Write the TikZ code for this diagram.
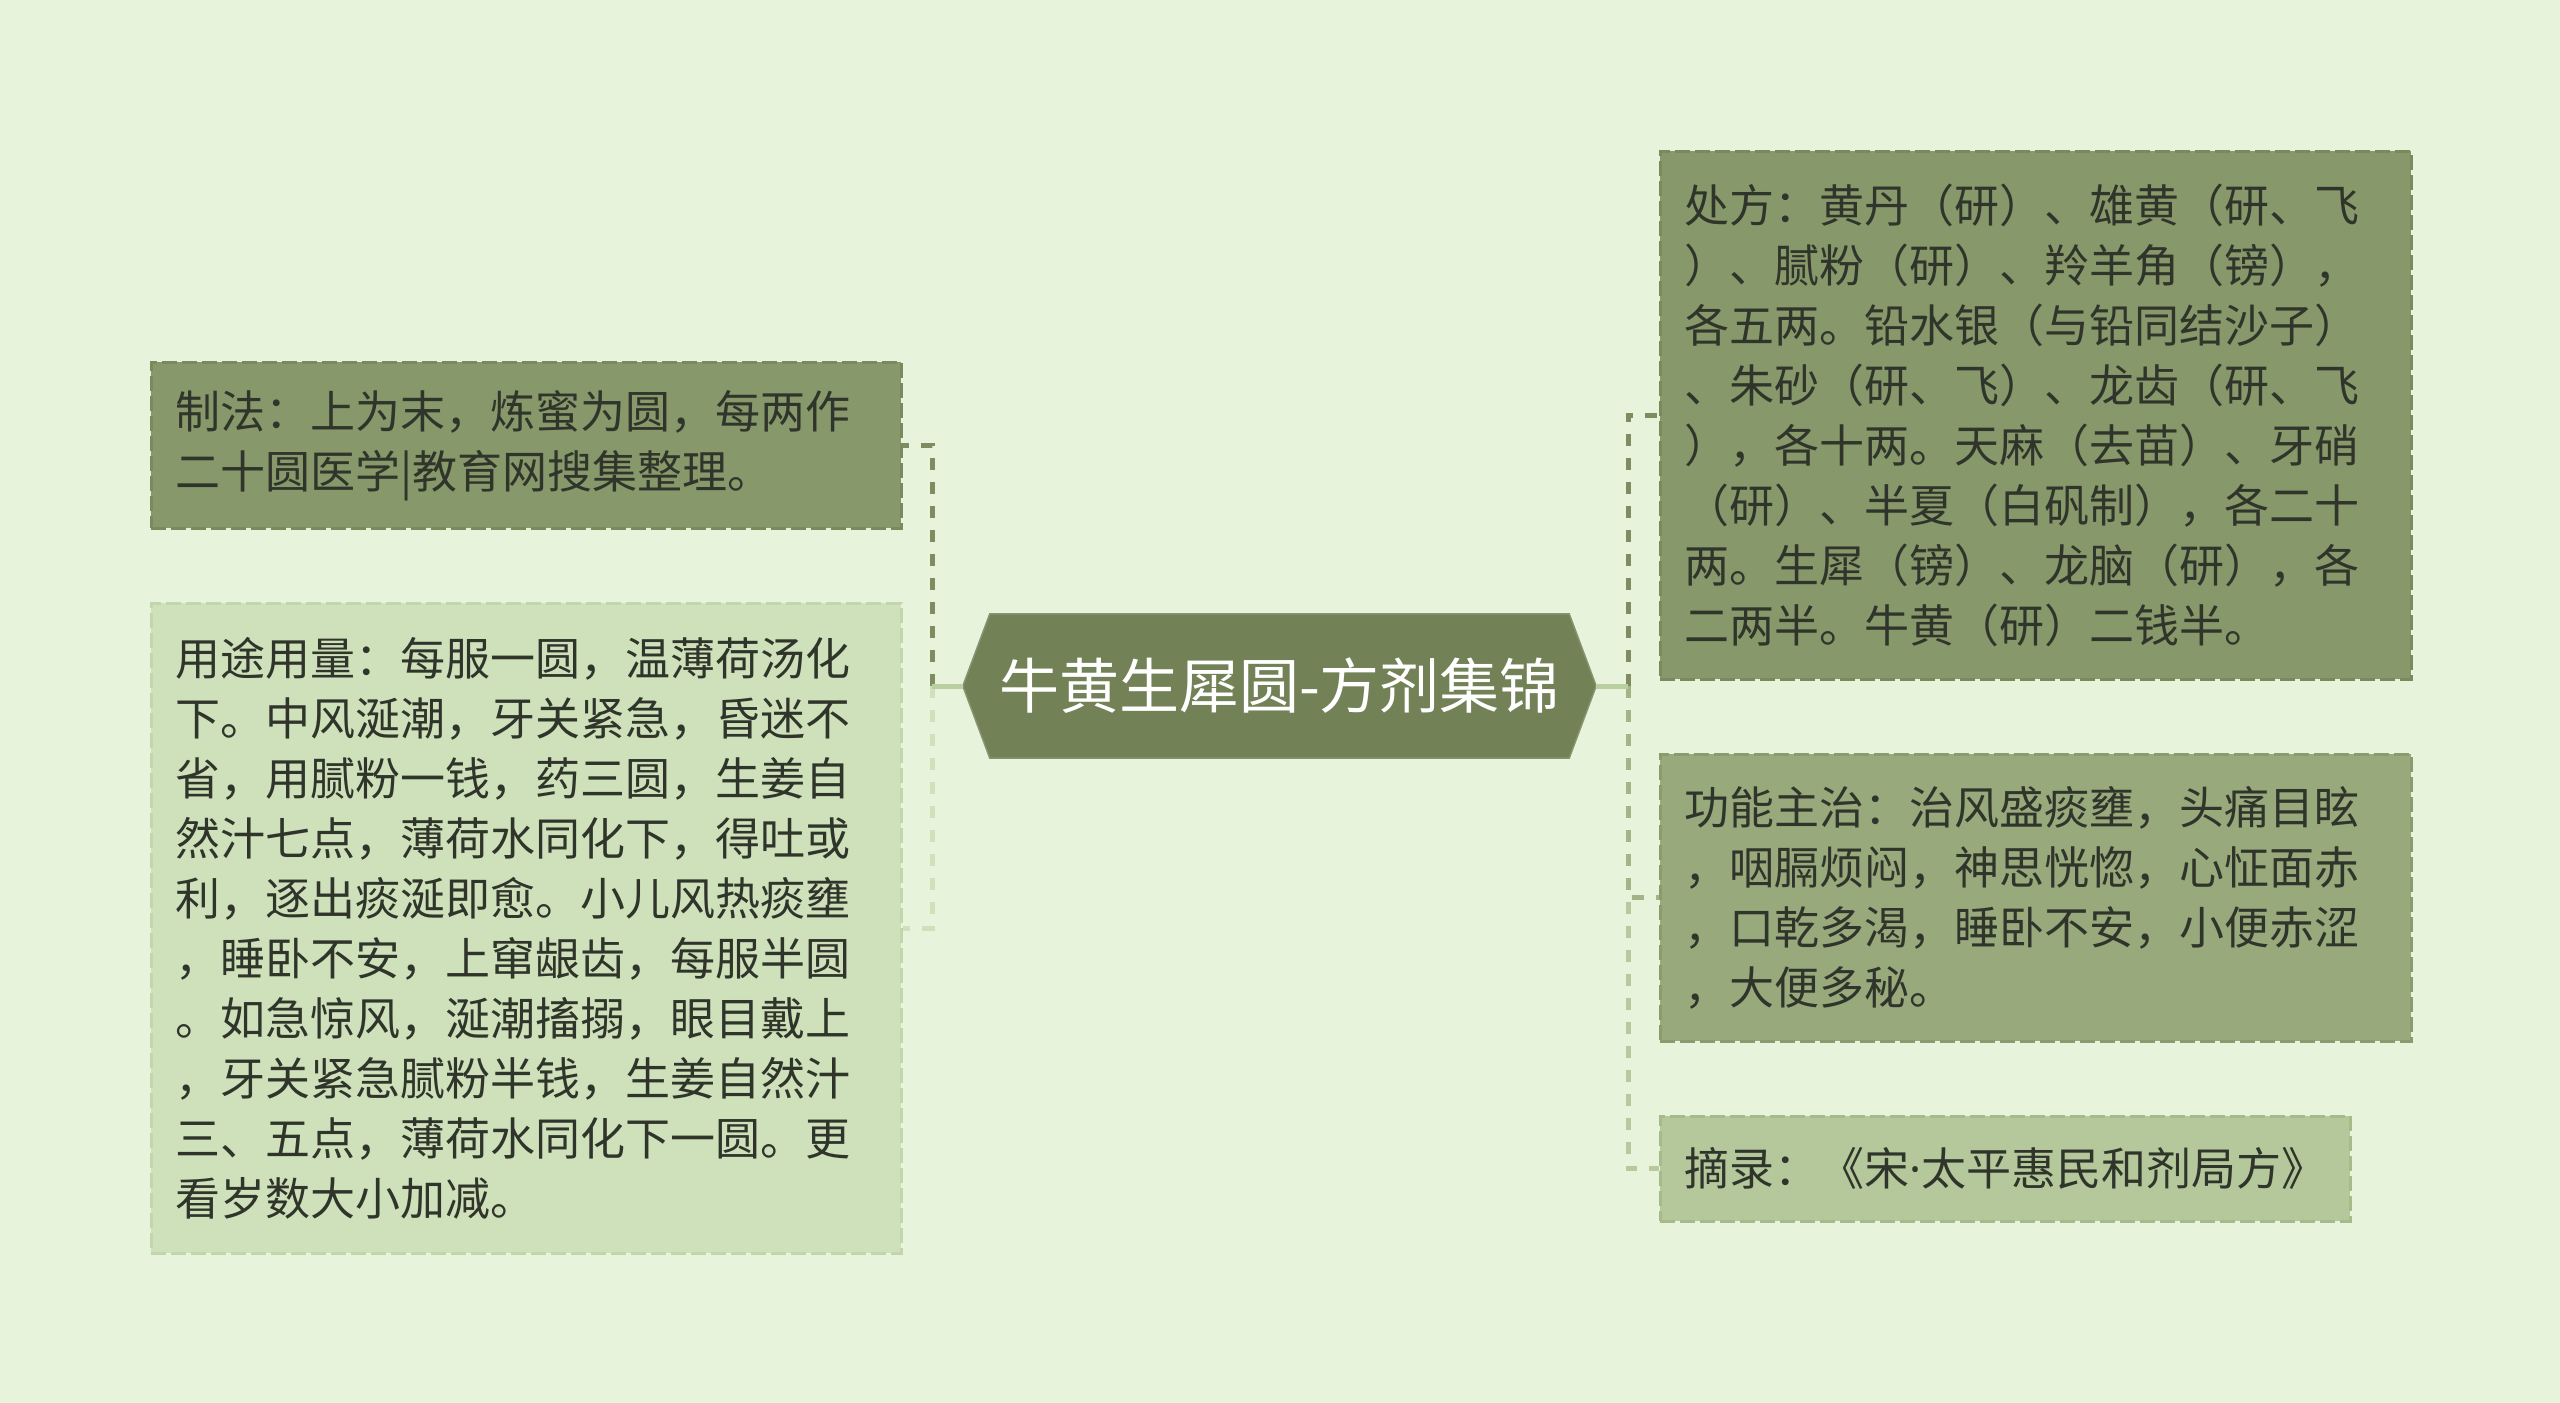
\documentclass[tikz,border=0pt]{standalone}
\usepackage{fontspec}
\setmainfont{Noto Sans CJK SC}
\newfontfamily\cjk{Noto Sans CJK SC}
\newfontfamily\latinf{Noto Sans}
\usetikzlibrary{backgrounds}
\definecolor{bgc}{HTML}{E7F4DB}
\definecolor{centerc}{HTML}{728156}
\definecolor{darkbox}{HTML}{87986A}
\definecolor{darkborder}{HTML}{7A8A5D}
\definecolor{midbox}{HTML}{98A97C}
\definecolor{midborder}{HTML}{8A9B6E}
\definecolor{litebox}{HTML}{B5C89B}
\definecolor{liteborder}{HTML}{A6BA8B}
\definecolor{palebox}{HTML}{CFE1BA}
\definecolor{paleborder}{HTML}{C2D6AB}
\definecolor{txt}{HTML}{30352B}
\definecolor{linkc}{HTML}{B9CFA0}
\definecolor{brdark}{HTML}{7E8C60}
\definecolor{brmid}{HTML}{A3B487}
\definecolor{brlite}{HTML}{B8CA9D}
\definecolor{brpale}{HTML}{CFE0BB}
\tikzset{
  textbox/.style={rectangle, anchor=north west, align=left, inner xsep=24pt, inner ysep=0pt,
    text=txt, line width=2.5pt, dash pattern=on 15pt off 5pt,
    font=\cjk\fontsize{45}{60}\selectfont},
  branch/.style={line width=5pt, dash pattern=on 12pt off 12pt},
  stem/.style={line width=5pt, draw=linkc},
  hub/.style={rectangle, inner sep=0pt, minimum width=633pt, minimum height=144pt,
    text=white, font=\cjk\fontsize{60}{72}\selectfont}
}
\begin{document}
\begin{tikzpicture}[x=1pt,y=-1pt]
\useasboundingbox (0,0) rectangle (2560,1403);
\node[hub] (c) at (1279.5,686) {牛黄生犀圆-方剂集锦};
\node[textbox, fill=darkbox, draw=darkborder, text width=702pt, minimum height=166pt] (zhifa) at (150,361)
 {制法：上为末，炼蜜为圆，每两作\\二十圆医学|教育网搜集整理。};
\node[textbox, fill=palebox, draw=paleborder, text width=702pt, minimum height=650pt] (yongtu) at (150,602)
 {用途用量：每服一圆，温薄荷汤化\\下。中风涎潮，牙关紧急，昏迷不\\省，用腻粉一钱，药三圆，生姜自\\然汁七点，薄荷水同化下，得吐或\\利，逐出痰涎即愈。小儿风热痰壅\\，睡卧不安，上窜龈齿，每服半圆\\。如急惊风，涎潮搐搦，眼目戴上\\，牙关紧急腻粉半钱，生姜自然汁\\三、五点，薄荷水同化下一圆。更\\看岁数大小加减。};
\node[textbox, fill=darkbox, draw=darkborder, text width=703pt, minimum height=528pt] (chufang) at (1659,150)
 {处方：黄丹（研）、雄黄（研、飞\\）、腻粉（研）、羚羊角（镑），\\各五两。铅水银（与铅同结沙子）\\、朱砂（研、飞）、龙齿（研、飞\\），各十两。天麻（去苗）、牙硝\\（研）、半夏（白矾制），各二十\\两。生犀（镑）、龙脑（研），各\\二两半。牛黄（研）二钱半。};
\node[textbox, fill=midbox, draw=midborder, text width=703pt, minimum height=287pt] (gongneng) at (1659,753)
 {功能主治：治风盛痰壅，头痛目眩\\，咽膈烦闷，神思恍惚，心怔面赤\\，口乾多渴，睡卧不安，小便赤涩\\，大便多秘。};
\node[textbox, fill=litebox, draw=liteborder, text width=642pt, minimum height=105pt] (zhailu) at (1659,1115)
 {摘录：《宋{\latinf ·}太平惠民和剂局方》};
\begin{scope}[on background layer]
  \fill[bgc] (0,0) rectangle (2560,1403);
  \filldraw[fill=centerc, draw=centerc!85!white, line width=1.5pt]
    ([xshift=27pt]c.north west) -- ([xshift=-27pt]c.north east) -- (c.east)
    -- ([xshift=-27pt]c.south east) -- ([xshift=27pt]c.south west) -- (c.west) -- cycle;
\end{scope}
\coordinate (jl) at (932,686);
\coordinate (jr) at (1628,686);
\draw[branch, draw=brpale] (jl) |- (yongtu.east);
\draw[branch, draw=brdark] (jl) |- (zhifa.east);
\draw[stem] (c.west) -- (jl);
\draw[branch, draw=brlite] (jr) |- (zhailu.west);
\draw[branch, draw=brmid] (jr) |- (gongneng.west);
\draw[branch, draw=brdark] (jr) |- (chufang.west);
\draw[stem] (c.east) -- (jr);
\end{tikzpicture}
\end{document}
